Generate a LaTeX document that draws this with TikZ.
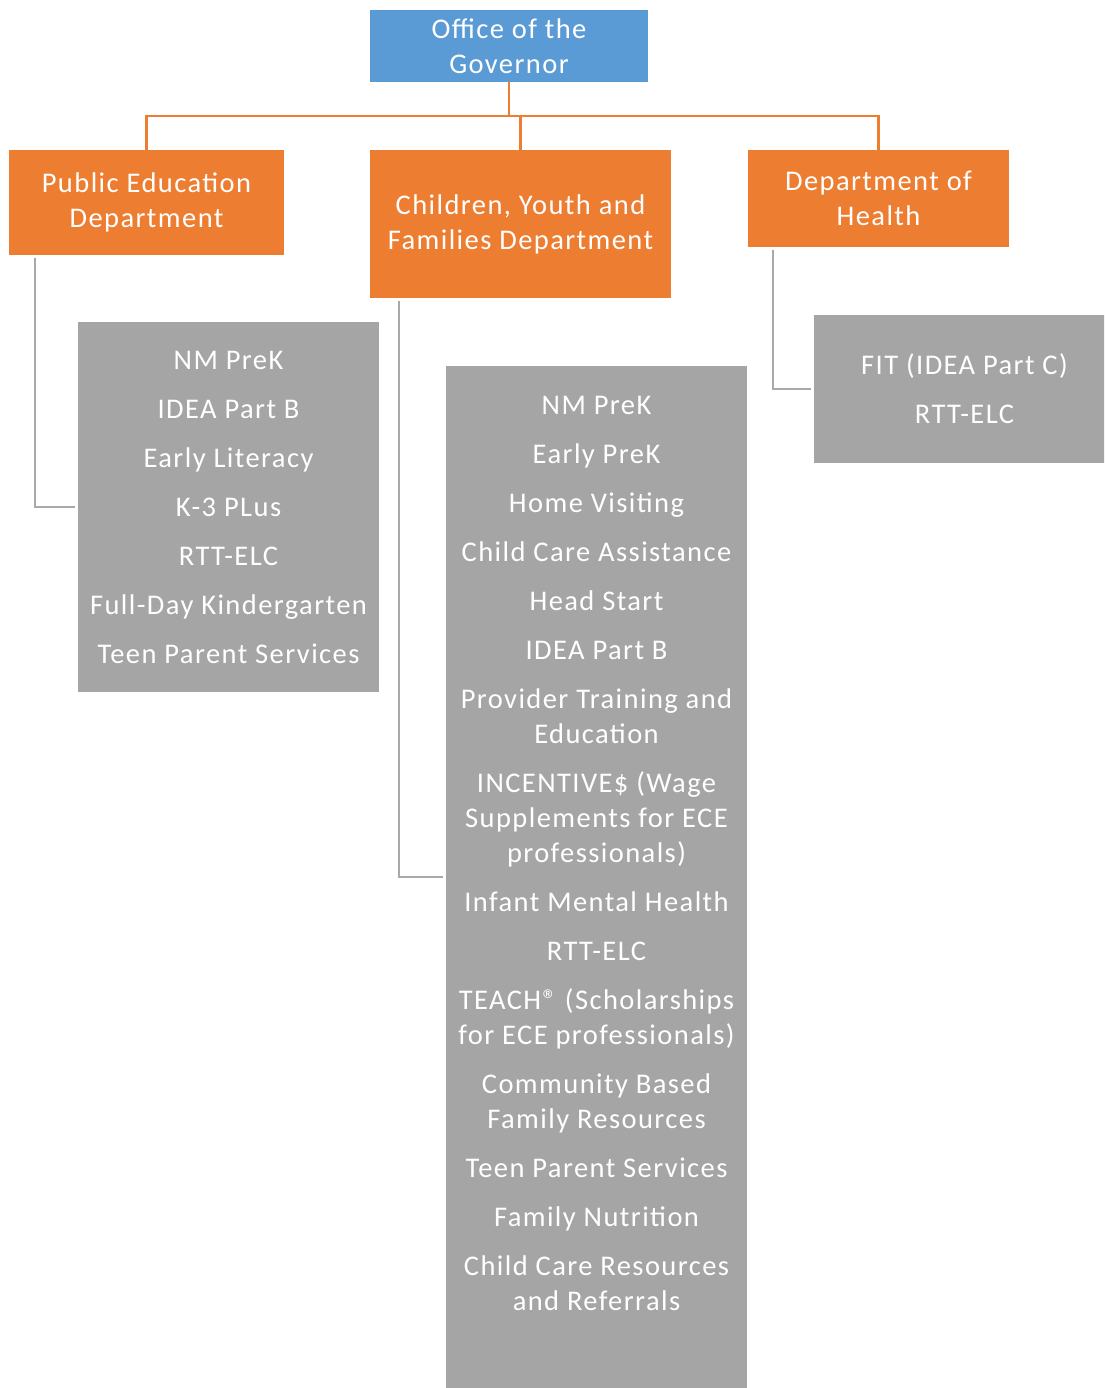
\documentclass[tikz,border=0pt]{standalone}
\usepackage{fontspec}
\setmainfont{Carlito}[LetterSpace=5]
\usetikzlibrary{positioning}
\definecolor{cblue}{HTML}{5B9BD5}
\definecolor{corange}{HTML}{ED7D31}
\definecolor{cgrey}{HTML}{A5A5A5}
\definecolor{cwire}{HTML}{A9A9A9}
\tikzset{
  every picture/.style={x=1pt, y=-1pt},
  box/.style={fill=#1, text=white, align=center, inner sep=0pt},
  box/.default=cgrey,
  panel/.style={fill=cgrey, minimum width=301pt, inner sep=0pt},
  items/.style={text=white, align=center, inner sep=0pt},
  tree/.style={draw=corange, line width=2.6pt},
  leg/.style={draw=cwire, line width=2.6pt},
}

\begin{document}
\begin{tikzpicture}[every node/.append style={font=\fontsize{28.5}{35}\selectfont}]
  \useasboundingbox (0,0) rectangle (1104,1388);
  \begin{scope}
  \clip (0,0) rectangle (1104,1388);
  % top and departments
  \node[box=cblue, minimum width=278pt, minimum height=72pt] (gov) at (509,46) {Office of the\\Governor};
  \node[box=corange, minimum width=275pt, minimum height=105pt] (ped) at (146.5,202.5) {Public Education\\Department};
  \node[box=corange, minimum width=301pt, minimum height=148pt] (cyfd) at (520.5,224) {Children, Youth and\\Families Department};
  \node[box=corange, minimum width=261pt, minimum height=97pt] (doh) at (878.5,198.5) {Department of\\Health};
  % program panels
  \node[panel, minimum height=370pt] (pedbox) at (228.5,507) {};
  \node[panel, minimum height=1022pt] (cyfdbox) at (596.5,877) {};
  \node[panel, minimum height=148pt] (dohbox) at (964.5,389) {};
  \end{scope}
  \node[items] (pedlist) at (pedbox.center) {NM PreK\\[14pt]IDEA Part B\\[14pt]Early Literacy\\[14pt]K-3 PLus\\[14pt]RTT-ELC\\[14pt]Full-Day Kindergarten\\[14pt]Teen Parent Services};
  \node[items] (cyfdlist) at (596.5,853) {NM PreK\\[14pt]Early PreK\\[14pt]Home Visiting\\[14pt]Child Care Assistance\\[14pt]Head Start\\[14pt]IDEA Part B\\[14pt]Provider Training and\\Education\\[14pt]INCENTIVE\$ (Wage\\Supplements for ECE\\professionals)\\[14pt]Infant Mental Health\\[14pt]RTT-ELC\\[14pt]TEACH® (Scholarships\\for ECE professionals)\\[14pt]Community Based\\Family Resources\\[14pt]Teen Parent Services\\[14pt]Family Nutrition\\[14pt]Child Care Resources\\and Referrals};
  \node[items] (dohlist) at (dohbox.center) {FIT (IDEA Part C)\\[14pt]RTT-ELC};
  % connectors
  \draw[tree] (gov.south) -- ++(0,34) -| (ped.north);
  \draw[tree] (gov.south) -- ++(0,34) -| (cyfd.north);
  \draw[tree] (gov.south) -- ++(0,34) -| (doh.north);
  \draw[leg] ([xshift=-111.5pt, yshift=-3pt]ped.south) |- ([xshift=-3pt]pedbox.west);
  \draw[leg] ([xshift=-121.5pt, yshift=-3pt]cyfd.south) |- ([xshift=-3pt]cyfdbox.west);
  \draw[leg] ([xshift=-105.5pt, yshift=-3pt]doh.south) |- ([xshift=-3pt]dohbox.west);
\end{tikzpicture}
\end{document}
